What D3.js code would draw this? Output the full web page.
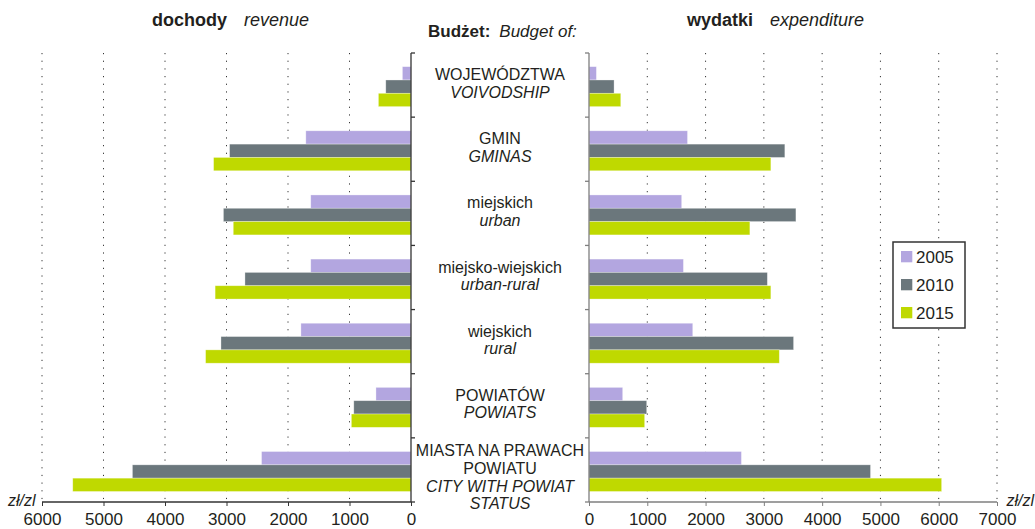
<!DOCTYPE html>
<html>
<head>
<meta charset="utf-8">
<script src="https://cdn.jsdelivr.net/npm/d3@7"></script>
<style>
  body { margin: 0; background: #fff; }
  svg text { font-family: "Liberation Sans", Arial, sans-serif; fill: #231f20; }
</style>
</head>
<body>
<div id="chart"></div>
<script>
const categories = ["woj", "gmin", "miejskich", "miejsko", "wiejskich", "powiatow", "miasta"];
const categoryLabels = [
    [["WOJEWÓDZTWA", false], ["VOIVODSHIP", true]],
    [["GMIN", false], ["GMINAS", true]],
    [["miejskich", false], ["urban", true]],
    [["miejsko-wiejskich", false], ["urban-rural", true]],
    [["wiejskich", false], ["rural", true]],
    [["POWIATÓW", false], ["POWIATS", true]],
    [["MIASTA NA PRAWACH", false], ["POWIATU", false], ["CITY WITH POWIAT", true], ["STATUS", true]]
];
const years = ["2005", "2010", "2015"];
const colors = ["#b3a6e0", "#6b777c", "#bfd900"];

// dochody / revenue per capita
const revenue2005 = [140, 1710, 1630, 1630, 1790, 570, 2430];
const revenue2010 = [410, 2950, 3050, 2700, 3090, 930, 4530];
const revenue2015 = [530, 3210, 2890, 3185, 3340, 970, 5500];
// wydatki / expenditure per capita
const expend2005 = [127, 1690, 1590, 1620, 1780, 578, 2615];
const expend2010 = [430, 3360, 3550, 3060, 3510, 990, 4830];
const expend2015 = [545, 3120, 2760, 3120, 3265, 955, 6050];

const revenueTicks = [0, 1000, 2000, 3000, 4000, 5000, 6000];
const expendTicks = [0, 1000, 2000, 3000, 4000, 5000, 6000, 7000];

const width = 1035, height = 529;
const plotTop = 53, plotBottom = 502;

const svg = d3.select("#chart")
    .append("svg")
    .attr("width", width)
    .attr("height", height);

const y0 = d3.scaleBand()
    .domain(categories)
    .range([plotTop, plotBottom]);
const bw = y0.bandwidth();
const y1 = d3.scaleBand()
    .domain(years)
    .range([bw * 0.213, bw * 0.213 + bw * 0.623]);

const xLeft = d3.scaleLinear().domain([0, 6000]).range([411, 42]);
const xRight = d3.scaleLinear().domain([0, 7000]).range([589, 997]);

function rows(a, b, c){
    return categories.map((cat, i) => ({cat: cat, vals: [a[i], b[i], c[i]]}));
}

function drawPanel(x, ticks, data, axisColor, side){
    let g = svg.append("g");
    // dotted grid
    g.selectAll(".grid")
        .data(ticks.filter(t => t > 0))
        .join("line")
        .attr("x1", d => x(d))
        .attr("x2", d => x(d))
        .attr("y1", plotTop)
        .attr("y2", plotBottom)
        .style("stroke", "#333")
        .style("stroke-width", 1)
        .style("stroke-dasharray", "1.2,6.47");

    // bars
    let groups = g.selectAll(".cat")
        .data(data)
        .join("g")
        .attr("transform", d => `translate(0,${y0(d.cat)})`);
    groups.selectAll("rect")
        .data(d => d.vals.map((v, i) => ({year: years[i], v: v, i: i})))
        .join("rect")
        .attr("x", d => Math.min(x(0), x(d.v)))
        .attr("width", d => Math.abs(x(d.v) - x(0)))
        .attr("y", d => y1(d.year))
        .attr("height", y1.bandwidth())
        .style("fill", d => colors[d.i])
        .style("stroke", "#fff")
        .style("stroke-opacity", 0.45)
        .style("stroke-width", 0.7);

    // bottom axis
    let ax = g.append("g")
        .attr("transform", `translate(0,${plotBottom})`)
        .call(d3.axisBottom(x).tickValues(ticks).tickSize(4).tickPadding(6).tickFormat(d3.format("d")));
    ax.select(".domain").remove();
    ax.selectAll(".tick line").style("stroke", axisColor);
    ax.selectAll(".tick text")
        .style("font-size", "17px")
        .style("font-family", "'Liberation Sans', Arial, sans-serif")
        .style("fill", "#231f20")
        .attr("dy", "0.74em");
    g.append("line")
        .attr("x1", x.range()[0]).attr("x2", x.range()[1])
        .attr("y1", plotBottom).attr("y2", plotBottom)
        .style("stroke", axisColor).style("stroke-width", 1.3);

    // category axis: boundary ticks
    let dir = side === "left" ? 1 : -1;
    g.selectAll(".cattick")
        .data(categories.map(c => y0(c)).concat([plotBottom]))
        .join("line")
        .attr("x1", x(0))
        .attr("x2", x(0) + dir * 4)
        .attr("y1", d => d)
        .attr("y2", d => d)
        .style("stroke", axisColor).style("stroke-width", 1.3);
    g.append("line")
        .attr("x1", x(0)).attr("x2", x(0))
        .attr("y1", plotTop).attr("y2", plotBottom)
        .style("stroke", axisColor).style("stroke-width", 1.3);
}

drawPanel(xLeft, revenueTicks, rows(revenue2005, revenue2010, revenue2015), "#333", "left");
drawPanel(xRight, expendTicks, rows(expend2005, expend2010, expend2015), "#7f7f7f", "right");

// category labels in the middle
const lh = 17.6;
categories.forEach(function(cat, i){
    let lines = categoryLabels[i];
    let n = lines.length;
    let cy = y0(cat) + bw / 2 + (n > 2 ? 7 : -2);
    let first = cy - (n - 1) * lh / 2 + 5.8;
    let t = svg.append("text")
        .attr("text-anchor", "middle")
        .style("font-size", "16px");
    lines.forEach(function(l, j){
        t.append("tspan")
            .attr("x", 500)
            .attr("y", first + j * lh)
            .style("font-style", l[1] ? "italic" : "normal")
            .text(l[0]);
    });
});

// titles
function title(x, y, bold, ital, size, gap){
    let t = svg.append("text")
        .attr("x", x).attr("y", y)
        .style("font-size", size + "px");
    t.append("tspan").style("font-weight", "bold").text(bold);
    t.append("tspan").attr("dx", gap).style("font-style", "italic").text(ital);
}
title(152, 26, "dochody", "revenue", 18, 17);
title(428, 37, "Budżet:", "Budget of:", 17, 9);
title(687, 26, "wydatki", "expenditure", 18, 17);

// unit labels
svg.append("text").attr("x", 8).attr("y", 506)
    .style("font-size", "16px").style("font-style", "italic").text("zł/zl");
svg.append("text").attr("x", 1034).attr("y", 506).attr("text-anchor", "end")
    .style("font-size", "16px").style("font-style", "italic").text("zł/zl");

// legend
let legend = svg.append("g").attr("transform", "translate(893,242)");
legend.append("rect")
    .attr("width", 72).attr("height", 86)
    .style("fill", "#fff")
    .style("stroke", "#333")
    .style("stroke-width", 1.5);
let items = legend.selectAll(".item")
    .data(years)
    .join("g")
    .attr("transform", (d, i) => `translate(8,${9 + i * 28})`);
items.append("rect")
    .attr("width", 11.3).attr("height", 11.3)
    .style("fill", (d, i) => colors[i]);
items.append("text")
    .attr("x", 15).attr("y", 11.5)
    .style("font-size", "17px")
    .text(d => d);
</script>
</body>
</html>
